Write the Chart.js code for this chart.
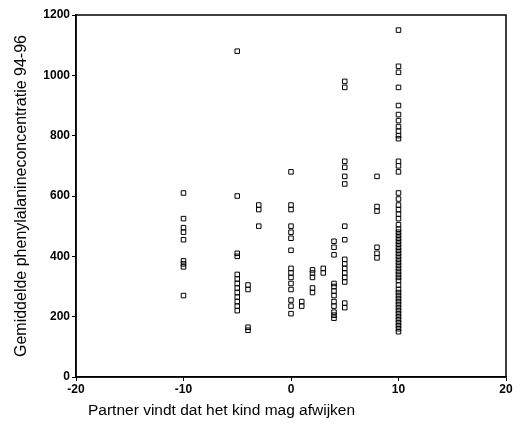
<!DOCTYPE html>
<html>
<head>
<meta charset="utf-8">
<script src="https://cdn.jsdelivr.net/npm/chart.js@4.4.1/dist/chart.umd.min.js"></script>
<style>
  html, body { margin: 0; padding: 0; background: #fff; }
  #wrap { width: 522px; height: 440px; }
</style>
</head>
<body>
<div id="wrap"><canvas id="chart" width="522" height="440"></canvas></div>
<script>
// Partner score categories (x) and the phenylalanine values read per column (y)
const partnerScores = [-10, -5, -4, -3, 0, 1, 2, 3, 4, 5, 8, 10];
const pheValues = [
  [610, 525, 495, 480, 455, 385, 375, 365, 270],
  [1080, 600, 410, 400, 340, 325, 310, 295, 280, 265, 250, 235, 220],
  [305, 290, 165, 155],
  [570, 555, 500],
  [680, 570, 555, 500, 480, 460, 420, 360, 345, 330, 310, 290, 255, 235, 210],
  [250, 235],
  [355, 345, 330, 295, 280],
  [360, 345],
  [450, 430, 405, 310, 300, 285, 270, 250, 235, 215, 205, 195],
  [980, 960, 715, 695, 665, 640, 500, 455, 390, 375, 360, 345, 330, 315, 245, 230],
  [665, 565, 550, 430, 410, 395],
  [1150, 1030, 1010, 960, 900, 870, 850, 830, 815, 800, 790, 715, 700, 680,
   610, 590, 570, 555, 540, 525, 505, 490, 480, 470, 460, 450, 440, 430, 420,
   410, 400, 390, 380, 370, 360, 350, 340, 330, 320, 305, 290, 280, 270, 260,
   250, 240, 230, 220, 210, 200, 190, 180, 170, 160, 150]
];
const xTicks = [-20, -10, 0, 10, 20];
const yTicks = [0, 200, 400, 600, 800, 1000, 1200];

const points = [];
partnerScores.forEach((x, i) => {
  pheValues[i].forEach(y => points.push({ x, y }));
});

// box round the plot area + left-aligned x title
const framePlugin = {
  id: 'frame',
  afterDraw(chart) {
    const { ctx, chartArea: a } = chart;
    ctx.save();
    ctx.strokeStyle = '#000';
    ctx.lineWidth = 1.5;
    ctx.strokeRect(a.left, a.top, a.right - a.left, a.bottom - a.top);
    ctx.fillStyle = '#000';
    ctx.font = '15.5px "Liberation Sans", Arial, sans-serif';
    ctx.textBaseline = 'middle';
    ctx.fillText('Partner vindt dat het kind mag afwijken', a.left + 12, 411);
    ctx.restore();
  }
};

const tickFont = { family: '"Liberation Sans", Arial, sans-serif', size: 12, weight: 'bold' };

new Chart(document.getElementById('chart'), {
  type: 'scatter',
  data: {
    datasets: [{
      data: points,
      pointStyle: 'rect',
      pointRadius: 3.2,
      borderColor: '#000',
      backgroundColor: 'rgba(0,0,0,0)',
      borderWidth: 1
    }]
  },
  options: {
    responsive: false,
    animation: false,
    layout: { padding: { top: 15, right: 16, left: 12, bottom: 0 } },
    plugins: { legend: { display: false }, tooltip: { enabled: false } },
    scales: {
      x: {
        type: 'linear',
        min: -20, max: 20,
        afterBuildTicks: s => { s.ticks = xTicks.map(v => ({ value: v })); },
        afterFit: s => { s.height = 63; },
        grid: { drawOnChartArea: false, drawTicks: true, tickLength: 4, color: '#000' },
        border: { color: '#000', width: 1.5 },
        ticks: { color: '#000', font: tickFont, padding: 1, maxRotation: 0, callback: v => String(v) }
      },
      y: {
        type: 'linear',
        min: 0, max: 1200,
        afterBuildTicks: s => { s.ticks = yTicks.map(v => ({ value: v })); },
        afterFit: s => { s.width = 64; },
        grid: { drawOnChartArea: false, drawTicks: true, tickLength: 4, color: '#000' },
        border: { color: '#000', width: 1.5 },
        ticks: { color: '#000', font: tickFont, padding: 2, callback: v => String(v) },
        title: {
          display: true,
          text: 'Gemiddelde phenylalanineconcentratie 94-96',
          color: '#000',
          font: { family: '"Liberation Sans", Arial, sans-serif', size: 16 },
          padding: { top: 0, bottom: 4 }
        }
      }
    }
  },
  plugins: [framePlugin]
});
</script>
</body>
</html>
